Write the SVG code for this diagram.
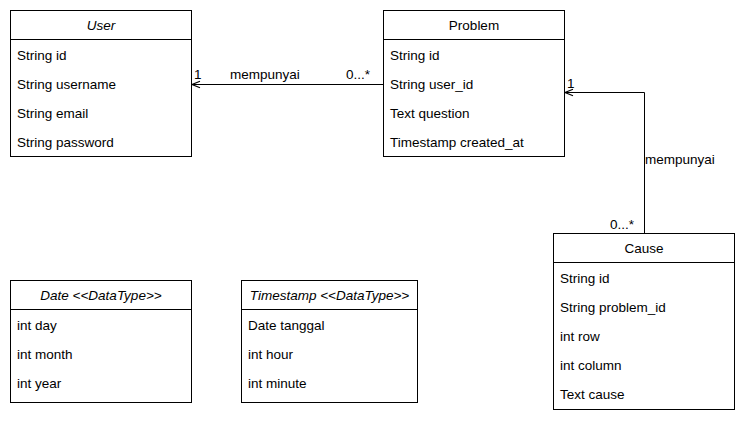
<svg xmlns="http://www.w3.org/2000/svg" width="753" height="428" viewBox="0 0 753 428">
<style>
.box{fill:#fff;stroke:#000;stroke-width:1}
.sep{stroke:#000;stroke-width:1}
text{font-family:"Liberation Sans",Arial,sans-serif;font-size:13.5px;fill:#000}
.h{text-anchor:middle}
.it{font-style:italic}
.c{fill:none;stroke:#000;stroke-width:1}
</style>
<defs>
<marker id="open" markerWidth="12" markerHeight="10" refX="9" refY="5" orient="auto" markerUnits="userSpaceOnUse">
<path d="M1,1.8 L9,5 L1,8.2" fill="none" stroke="#000" stroke-width="1.2"/>
</marker>
</defs>
<rect width="753" height="428" fill="#fff"/>
<g id="connectors">
<line class="c" x1="383" y1="84.5" x2="192" y2="84.5" marker-end="url(#open)"/>
<polyline class="c" points="644.5,233 644.5,92.5 565,92.5" marker-end="url(#open)"/>
<text x="194" y="79">1</text>
<text x="230" y="79">mempunyai</text>
<text x="346" y="79">0...*</text>
<text x="567" y="88">1</text>
<text x="645" y="164">mempunyai</text>
<text x="610" y="229">0...*</text>
</g>
<g id="User">
<rect class="box" x="10.5" y="10.5" width="181" height="146"/>
<line class="sep" x1="10.5" y1="39.5" x2="191.5" y2="39.5"/>
<text class="h it" x="101" y="30">User</text>
<text x="17" y="60">String id</text>
<text x="17" y="89">String username</text>
<text x="17" y="118">String email</text>
<text x="17" y="147">String password</text>
</g>
<g id="Problem">
<rect class="box" x="383.5" y="10.5" width="181" height="146"/>
<line class="sep" x1="383.5" y1="39.5" x2="564.5" y2="39.5"/>
<text class="h" x="474" y="30">Problem</text>
<text x="390" y="60">String id</text>
<text x="390" y="89">String user_id</text>
<text x="390" y="118">Text question</text>
<text x="390" y="147">Timestamp created_at</text>
</g>
<g id="Cause">
<rect class="box" x="553.5" y="233.5" width="181" height="176"/>
<line class="sep" x1="553.5" y1="262.5" x2="734.5" y2="262.5"/>
<text class="h" x="644" y="253">Cause</text>
<text x="560" y="283">String id</text>
<text x="560" y="312">String problem_id</text>
<text x="560" y="341">int row</text>
<text x="560" y="370">int column</text>
<text x="560" y="399">Text cause</text>
</g>
<g id="Date">
<rect class="box" x="10.5" y="280.5" width="181" height="122"/>
<line class="sep" x1="10.5" y1="309.5" x2="191.5" y2="309.5"/>
<text class="h it" x="101" y="300">Date &lt;&lt;DataType&gt;&gt;</text>
<text x="17" y="330">int day</text>
<text x="17" y="359">int month</text>
<text x="17" y="388">int year</text>
</g>
<g id="Timestamp">
<rect class="box" x="241.5" y="280.5" width="176" height="122"/>
<line class="sep" x1="241.5" y1="309.5" x2="417.5" y2="309.5"/>
<text class="h it" x="329.5" y="300">Timestamp &lt;&lt;DataType&gt;&gt;</text>
<text x="248" y="330">Date tanggal</text>
<text x="248" y="359">int hour</text>
<text x="248" y="388">int minute</text>
</g>
</svg>
